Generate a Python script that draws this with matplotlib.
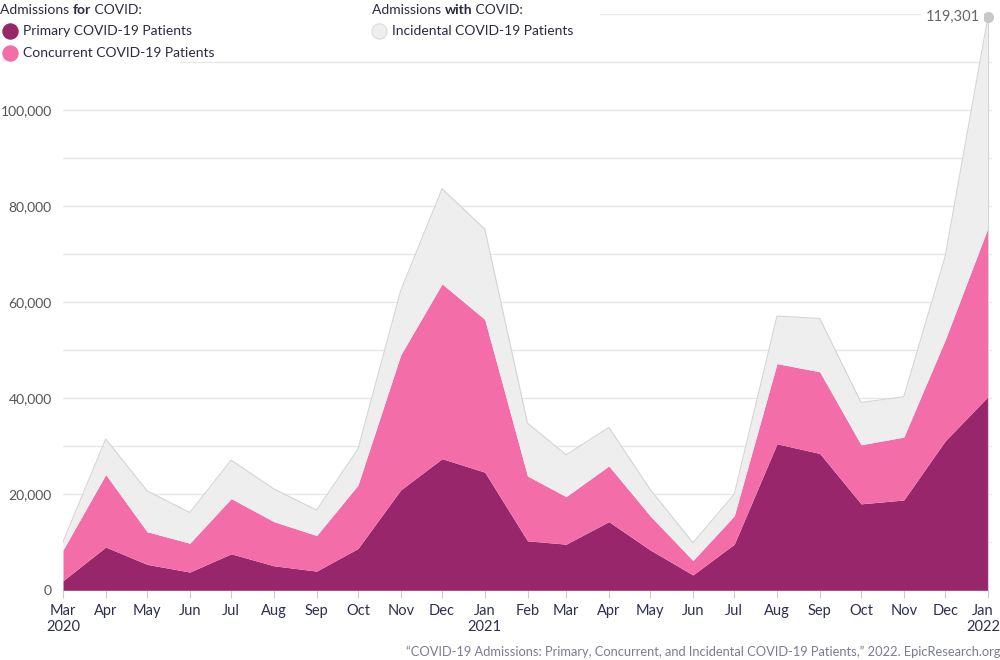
import matplotlib
matplotlib.use("Agg")
import matplotlib.pyplot as plt
import matplotlib.dates as mdates
from matplotlib.patches import Rectangle
from matplotlib.transforms import ScaledTranslation
import numpy as np
import pandas as pd

plt.rcParams['font.family'] = ['Lato', 'DejaVu Sans']

# ---- data ----
months = pd.date_range("2020-03-01", "2022-01-01", freq="MS")
month_labels = ["Mar\n2020", "Apr", "May", "Jun", "Jul", "Aug", "Sep", "Oct", "Nov", "Dec",
                "Jan\n2021", "Feb", "Mar", "Apr", "May", "Jun", "Jul", "Aug", "Sep", "Oct",
                "Nov", "Dec", "Jan\n2022"]
primary = [2000, 9000, 5400, 3800, 7600, 5100, 4000, 8700, 20900, 27400, 24600,
           10300, 9600, 14300, 8400, 3200, 9600, 30500, 28500, 18000, 18800, 31100, 40300]
concurrent = [6400, 15100, 6800, 6000, 11500, 9200, 7400, 13200, 28100, 36400, 31800,
              13500, 9900, 11600, 7100, 3000, 5900, 16700, 17000, 12300, 13100, 21000, 35100]
incidental = [1700, 7400, 8500, 6400, 8000, 6800, 5300, 7500, 13400, 19800, 18800,
              11000, 8700, 8000, 5500, 3700, 4500, 9900, 11100, 8800, 8400, 17400, 43901]
y_ticks = [0, 20000, 40000, 60000, 80000, 100000]

# colours
C_PRIMARY = "#98266B"
C_CONC = "#F36EA9"
C_INC = "#EEEEEE"
C_EDGE = "#D4D4D4"
C_GRID = "#E8E8E8"
C_XLAB = "#2E2F50"
C_YLAB = "#555555"

W, H = 1000, 660
fig = plt.figure(figsize=(W / 100, H / 100), dpi=100)
ax = fig.add_axes([63 / W, 1 - 590.3 / H, 929 / W, 576.4 / H])

x = mdates.date2num(months.to_pydatetime())
p = np.array(primary, dtype=float)
c = np.array(concurrent, dtype=float)
i = np.array(incidental, dtype=float)
top1 = p
top2 = p + c
top3 = p + c + i

ax.fill_between(x, 0, top1, color=C_PRIMARY, lw=0, zorder=3)
ax.fill_between(x, top1, top2, color=C_CONC, lw=0, zorder=3)
ax.fill_between(x, top2, top3, color=C_INC, lw=0, zorder=3)
ax.plot(x, top3, color=C_EDGE, lw=0.8, zorder=4)
ax.plot([x[-1], x[-1]], [0, top3[-1]], color=C_EDGE, lw=0.8, zorder=4)

ax.set_xlim(x[0], x[-1] + 3)
ax.set_ylim(0, 120000)

ax.set_yticks(y_ticks)
ax.set_yticklabels([f"{v:,}" for v in y_ticks])
ax.set_yticks(np.arange(10000, 120001, 10000), minor=True)
ax.yaxis.grid(True, which="both", color=C_GRID, lw=1, zorder=0)
ax.tick_params(axis="y", which="both", length=0, pad=8, labelsize=10, labelcolor=C_YLAB)

ax.set_xticks(x)
ax.set_xticklabels(month_labels)
ax.tick_params(axis="x", length=6, width=0.8, color="#CCCCCC", pad=4,
               labelsize=10.5, labelcolor=C_XLAB)
last_lab = ax.get_xticklabels()[-1]
last_lab.set_horizontalalignment("right")
last_lab.set_multialignment("center")
last_lab.set_transform(last_lab.get_transform() + ScaledTranslation(12 / 100, 0, fig.dpi_scale_trans))
for sp in ax.spines.values():
    sp.set_visible(False)
ax.set_axisbelow(True)

# last value annotation
ax.plot([x[-1]], [top3[-1]], "o", color="#C8C8C8", ms=7, clip_on=False, zorder=6)
ax.annotate(f"{int(round(top3[-1])):,}", xy=(x[-1], top3[-1]), xytext=(-6, 0),
            textcoords="offset points", ha="right", va="center", fontsize=10.5,
            color="#666666", zorder=6,
            bbox=dict(facecolor="white", edgecolor="none", pad=3))

# white boxes behind legend (covering gridlines)
fig.add_artist(Rectangle((0, 1 - 22 / H), 600 / W, 22 / H, transform=fig.transFigure,
                         facecolor="white", edgecolor="none", zorder=2))
fig.add_artist(Rectangle((0, 1 - 66 / H), 180 / W, 46 / H, transform=fig.transFigure,
                         facecolor="white", edgecolor="none", zorder=2))

# legend
renderer = fig.canvas.get_renderer()
LEG_COL = "#2A2A40"
FS = 10


def mixed_title(x0, y0, parts):
    xp = x0
    for txt, weight in parts:
        t = fig.text(xp / W, 1 - y0 / H, txt, fontsize=FS, fontweight=weight,
                     color=LEG_COL, ha="left", va="center", zorder=5)
        bb = t.get_window_extent(renderer=renderer)
        xp += bb.width


mixed_title(0, 10, [("Admissions ", "normal"), ("for", "bold"), (" COVID:", "normal")])
mixed_title(372, 10, [("Admissions ", "normal"), ("with", "bold"), (" COVID:", "normal")])

legend_items = [(10, 31, C_PRIMARY, C_PRIMARY, "Primary COVID-19 Patients"),
                (10, 53, C_CONC, C_CONC, "Concurrent COVID-19 Patients"),
                (379, 31, C_INC, "#DDDDDD", "Incidental COVID-19 Patients")]
for cx, cy, fc, ec, label in legend_items:
    fig.add_artist(plt.Line2D([cx / W], [1 - cy / H], marker="o", ms=11,
                              markerfacecolor=fc, markeredgecolor=ec, mew=0.8,
                              transform=fig.transFigure, zorder=5))
    fig.text((cx + 13) / W, 1 - cy / H, label, fontsize=FS, color=LEG_COL,
             ha="left", va="center", zorder=5)

# caption
fig.text(1.0, 1 - 652 / H,
         "\u201cCOVID-19 Admissions: Primary, Concurrent, and Incidental COVID-19 Patients,\u201d 2022. EpicResearch.org",
         ha="right", va="center", fontsize=9.3, color="#7B7B93")

fig.savefig("out.png", dpi=100, facecolor="white")
